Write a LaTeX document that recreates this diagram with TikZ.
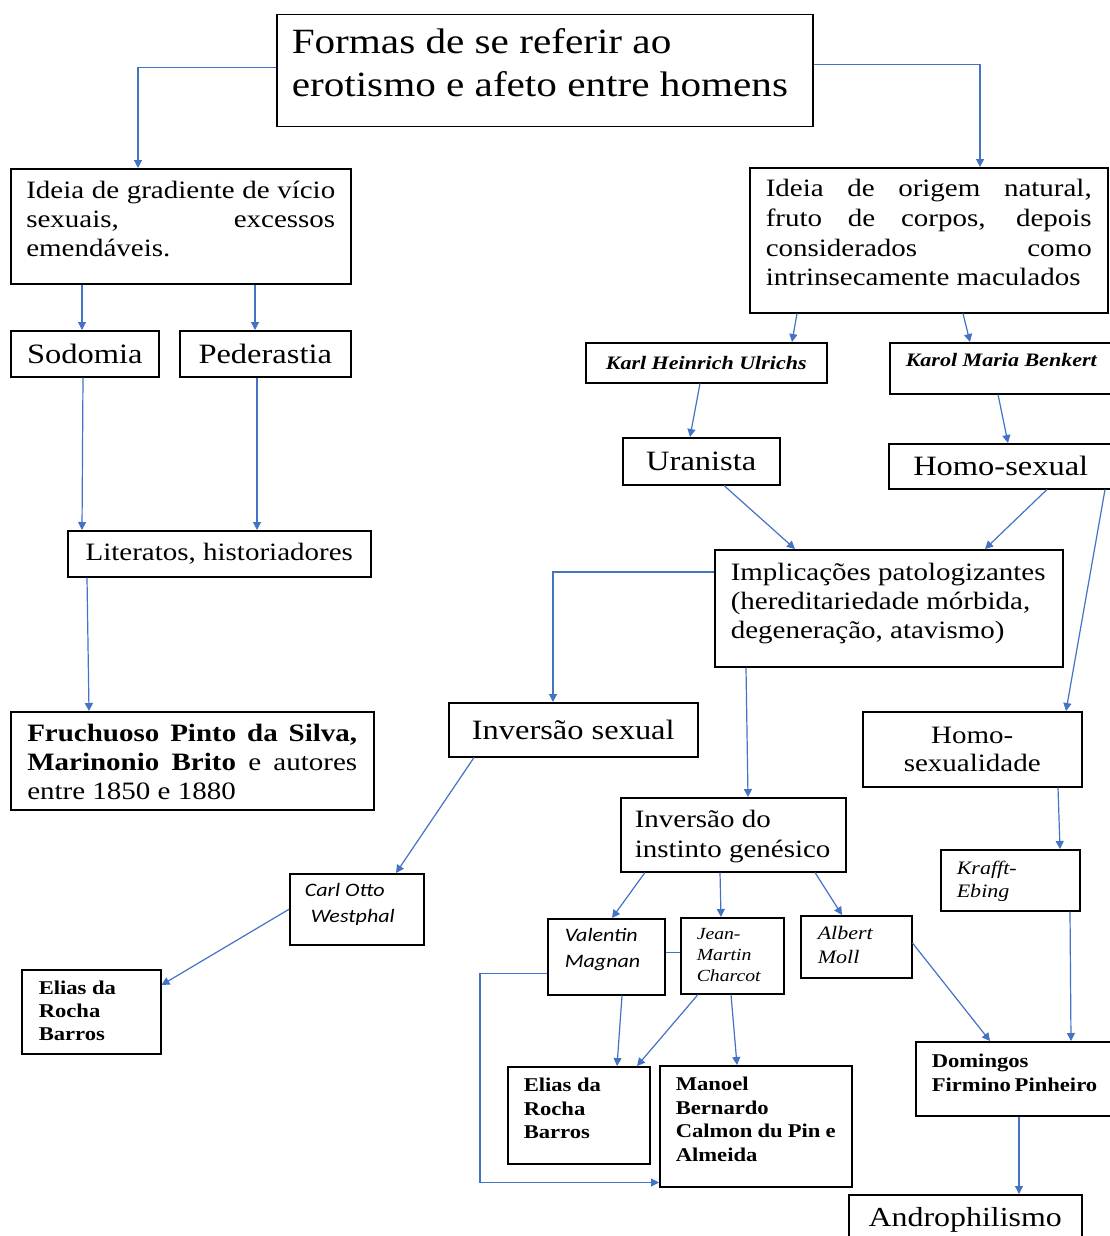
\documentclass[tikz,border=0pt]{standalone}
\usepackage{fontspec}
\setmainfont{Liberation Serif}[FakeStretch=1.16]
\newfontfamily\calibri{Carlito}[FakeStretch=1.16]
\usetikzlibrary{arrows.meta}

\definecolor{seta}{RGB}{68,114,196}
\newcommand{\fs}[2]{\fontsize{#1}{#2}\selectfont}
\newcommand{\cellbox}[4]{\parbox[c][#2][t]{#1}{\vspace*{#3}#4}}
\newcommand{\linha}[1]{\hbox to \hsize{\strut #1\hfil}}
\newcommand{\linhaj}[1]{\hbox to \hsize{\strut #1}}

\begin{document}
\begin{tikzpicture}[x=1pt,y=-1pt,
    box/.style={draw, line width=1.5pt, inner sep=0pt, anchor=north west},
    arr/.style={seta, line width=1.2pt, -{Triangle[length=8pt,width=8pt]}}]
  \useasboundingbox (0,0) rectangle (1109,1236);
  \fill[white] (0,0) rectangle (1109,1236);

  \node[box, inner xsep=15pt, font=\fs{35.5}{43}] (titulo) at (276,14)
    {\cellbox{506pt}{112pt}{9pt}{\linha{Formas de se referir ao}\linha{erotismo e afeto entre homens}}};

  % lado esquerdo
  \node[box, inner xsep=15.5pt, font=\fs{25}{29}] (vicio) at (10,168)
    {\cellbox{309pt}{115pt}{9.7pt}{\linhaj{Ideia de gradiente de vício}\linhaj{sexuais, excessos}\linha{emendáveis.}}};
  \node[box, minimum width=148pt, minimum height=46pt, font=\fs{28}{32}] (sodomia) at (10,330) {Sodomia};
  \node[box, minimum width=171pt, minimum height=46pt, font=\fs{28}{32}] (pederastia) at (179,330) {Pederastia};
  \node[box, minimum width=303pt, minimum height=46pt, font=\fs{25}{29}] (literatos) at (67,530) {Literatos, historiadores};
  \node[box, inner xsep=16.5pt, font=\fs{25}{29}] (fruchuoso) at (10,711)
    {\cellbox{330pt}{98pt}{9.7pt}{\linhaj{\textbf{Fruchuoso Pinto da Silva,}}\linhaj{\textbf{Marinonio Brito} e autores}\linha{entre 1850 e 1880}}};

  % lado direito
  \node[box, inner xsep=16pt, font=\fs{25}{29.7}] (origem) at (749,167)
    {\cellbox{326pt}{145pt}{8.2pt}{\linhaj{Ideia de origem natural,}\linhaj{fruto de corpos, depois}\linhaj{considerados como}\linha{intrinsecamente maculados}}};
  \node[box, minimum width=241pt, minimum height=40pt, font=\fs{19}{23}\bfseries\itshape] (ulrichs) at (585,342) {Karl Heinrich Ulrichs};
  \node[box, inner xsep=16pt, font=\fs{19}{23}\bfseries\itshape] (benkert) at (889,342)
    {\cellbox{191pt}{51pt}{8pt}{\linha{Karol Maria Benkert}}};
  \node[box, minimum width=157pt, minimum height=47pt, font=\fs{28}{32}] (uranista) at (622,437) {Uranista};
  \node[box, minimum width=224pt, minimum height=45pt, font=\fs{28}{32}] (homosexual) at (888,443) {Homo-sexual};
  \node[box, inner xsep=16pt, font=\fs{25}{29}] (implic) at (714,549)
    {\cellbox{316pt}{117pt}{10.7pt}{\linha{Implicações patologizantes}\linha{(hereditariedade mórbida,}\linha{degeneração, atavismo)}}};
  \node[box, minimum width=249pt, minimum height=54pt, font=\fs{28}{32}] (invsexual) at (448,702) {Inversão sexual};
  \node[box, minimum width=219pt, minimum height=75pt, align=center, font=\fs{25}{28}] (homosexualidade) at (862,711) {Homo-\\sexualidade};
  \node[box, inner xsep=14pt, font=\fs{25}{30}] (instinto) at (620,797)
    {\cellbox{197pt}{74pt}{9pt}{\linha{Inversão do}\linha{instinto genésico}}};

  \node[box, inner xsep=15pt, font=\fs{19}{26}\calibri\itshape] (westphal) at (289,873)
    {\cellbox{104pt}{71pt}{4.8pt}{\linha{Carl Otto}\linha{\hspace{6pt}Westphal}}};
  \node[box, inner xsep=17pt, font=\fs{19.5}{23}\bfseries] (elias) at (21,969)
    {\cellbox{105pt}{84pt}{8.9pt}{\linha{Elias da}\linha{Rocha}\linha{Barros}}};
  \node[box, inner xsep=16pt, font=\fs{19}{23}\itshape] (krafft) at (940,849)
    {\cellbox{107pt}{61pt}{8.9pt}{\linha{Krafft-}\linha{Ebing}}};
  \node[box, inner xsep=17pt, font=\fs{19}{26}\calibri\itshape] (magnan) at (547,918)
    {\cellbox{83pt}{76pt}{4.8pt}{\linha{Valentin}\linha{Magnan}}};
  \node[box, inner xsep=16pt, font=\fs{17}{21}\itshape] (charcot) at (680,917)
    {\cellbox{71pt}{76pt}{7.3pt}{\linha{Jean-}\linha{Martin}\linha{Charcot}}};
  \node[box, inner xsep=17pt, font=\fs{19}{24}\itshape] (moll) at (800,915)
    {\cellbox{77pt}{62pt}{7.2pt}{\linha{Albert}\linha{Moll}}};
  \node[box, inner xsep=16pt, font=\fs{19.5}{23.5}\bfseries] (barros) at (507,1066)
    {\cellbox{110pt}{97pt}{8.5pt}{\linha{Elias da}\linha{Rocha}\linha{Barros}}};
  \node[box, inner xsep=16pt, font=\fs{19.5}{23.5}\bfseries] (manoel) at (659,1065)
    {\cellbox{160pt}{121pt}{8.5pt}{\linha{Manoel}\linha{Bernardo}\linha{Calmon du Pin e}\linha{Almeida}}};
  \node[box, inner xsep=16pt, font=\fs{19.5}{24}\bfseries] (domingos) at (915,1041)
    {\cellbox{165pt}{74pt}{8.5pt}{\linha{Domingos}\linha{Firmino Pinheiro}}};
  \node[box, minimum width=233pt, minimum height=50pt, font=\fs{27.5}{31}] (andro) at (848,1194) {Androphilismo};

  % setas
  \draw[arr] ([yshift=3pt]titulo.west) -| ([xshift=128pt]vicio.north west);
  \draw[arr] ([yshift=6pt]titulo.east) -| ([xshift=231pt]origem.north west);
  \draw[arr] ([xshift=72pt]vicio.south west) -- ([xshift=72pt]sodomia.north west);
  \draw[arr] ([xshift=245pt]vicio.south west) -- ([xshift=76pt]pederastia.north west);
  \draw[arr] ([xshift=73pt]sodomia.south west) -- ([xshift=15pt]literatos.north west);
  \draw[arr] ([xshift=78pt]pederastia.south west) -- ([xshift=190pt]literatos.north west);
  \draw[arr] ([xshift=20pt]literatos.south west) -- ([xshift=79pt]fruchuoso.north west);

  \draw[arr] ([xshift=48pt]origem.south west) -- ([xshift=207pt]ulrichs.north west);
  \draw[arr] ([xshift=214pt]origem.south west) -- ([xshift=81pt]benkert.north west);
  \draw[arr] ([xshift=115pt]ulrichs.south west) -- ([xshift=68pt]uranista.north west);
  \draw[arr] ([xshift=109pt]benkert.south west) -- ([xshift=120pt]homosexual.north west);
  \draw[arr] ([xshift=102pt]uranista.south west) -- ([xshift=81pt]implic.north west);
  \draw[arr] ([xshift=159pt]homosexual.south west) -- ([xshift=271pt]implic.north west);
  \draw[arr] ([xshift=217pt]homosexual.south west) -- ([xshift=204pt]homosexualidade.north west);
  \draw[arr] ([yshift=-23pt]implic.north west) -| ([xshift=105pt]invsexual.north west);
  \draw[arr] ([xshift=32pt]implic.south west) -- ([xshift=128pt]instinto.north west);
  \draw[arr] ([xshift=26pt]invsexual.south west) -- ([xshift=107pt]westphal.north west);
  \draw[arr] (westphal.west) -- ([yshift=-16pt]elias.north east);
  \draw[arr] ([xshift=196pt]homosexualidade.south west) -- ([xshift=120pt]krafft.north west);

  \draw[arr] ([xshift=25pt]instinto.south west) -- ([xshift=65pt]magnan.north west);
  \draw[arr] ([xshift=100pt]instinto.south west) -- ([xshift=41pt]charcot.north west);
  \draw[arr] ([xshift=195pt]instinto.south west) -- ([xshift=42pt]moll.north west);
  \draw[seta, line width=1.2pt] ([yshift=4pt]magnan.east) -- ([yshift=3pt]charcot.west);
  \draw[arr] ([yshift=22pt]magnan.south west) -- ++(-67,0) |- ([yshift=5pt]manoel.south west);
  \draw[arr] ([xshift=75pt]magnan.south west) -- ([xshift=110pt]barros.north west);
  \draw[arr] ([xshift=18pt]charcot.south west) -- ([xshift=130pt]barros.north west);
  \draw[arr] ([xshift=51pt]charcot.south west) -- ([xshift=78pt]manoel.north west);
  \draw[arr] ([yshift=-28pt]moll.north east) -- ([xshift=75pt]domingos.north west);
  \draw[arr] ([xshift=130pt]krafft.south west) -- ([xshift=156pt]domingos.north west);
  \draw[arr] ([xshift=104pt]domingos.south west) -- ([xshift=171pt]andro.north west);
\end{tikzpicture}
\end{document}
